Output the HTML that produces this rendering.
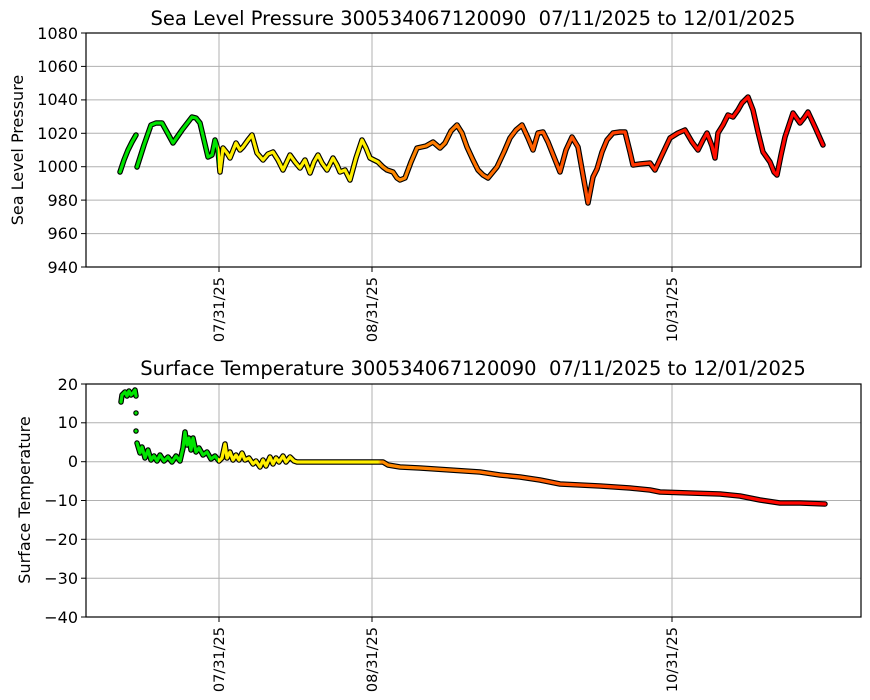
<!DOCTYPE html>
<html><head><meta charset="utf-8"><style>body{margin:0;background:#fff}svg{display:block}text{font-family:"DejaVu Sans","Liberation Sans",sans-serif;fill:#000}</style></head><body>
<svg width="870" height="700" viewBox="0 0 870 700">
<defs>
<linearGradient id="g" gradientUnits="userSpaceOnUse" x1="120" y1="0" x2="826" y2="0">
<stop offset="0" stop-color="#00e400"/><stop offset="0.1388" stop-color="#00e400"/>
<stop offset="0.1389" stop-color="#ffee00"/><stop offset="0.3654" stop-color="#ffee00"/>
<stop offset="0.37" stop-color="#ff8c00"/><stop offset="0.52" stop-color="#ff7000"/>
<stop offset="0.68" stop-color="#ff4a00"/><stop offset="0.82" stop-color="#ff1000"/>
<stop offset="1" stop-color="#ff0000"/></linearGradient>
</defs>
<g stroke="#b0b0b0" stroke-width="1">
<line x1="219" y1="33" x2="219" y2="267"/><line x1="372" y1="33" x2="372" y2="267"/><line x1="672" y1="33" x2="672" y2="267"/>
<line x1="86" y1="66.4" x2="861" y2="66.4"/><line x1="86" y1="99.9" x2="861" y2="99.9"/><line x1="86" y1="133.3" x2="861" y2="133.3"/><line x1="86" y1="166.7" x2="861" y2="166.7"/><line x1="86" y1="200.1" x2="861" y2="200.1"/><line x1="86" y1="233.6" x2="861" y2="233.6"/>
<line x1="219" y1="384" x2="219" y2="617"/><line x1="372" y1="384" x2="372" y2="617"/><line x1="672" y1="384" x2="672" y2="617"/>
<line x1="86" y1="422.8" x2="861" y2="422.8"/><line x1="86" y1="461.7" x2="861" y2="461.7"/><line x1="86" y1="500.5" x2="861" y2="500.5"/><line x1="86" y1="539.3" x2="861" y2="539.3"/><line x1="86" y1="578.2" x2="861" y2="578.2"/>
</g>
<g fill="none" stroke-linejoin="round" stroke-linecap="round">
<g id="p1">
<polyline points="120,172 124,160 128,150 132,142 136,135"/>
<polyline points="137,167 144,145 151,125 156,123 162,123 167,132 173,143 182,130 192,117 196,118 200,123 204,140 208,157 212,155 215,140 218,150 220,172 223,148 227,153 230,158 236,143 240,150 243,147 248,140 252,135 257,153 263,160 268,154 273,152 278,160 283,170 290,155 295,162 300,168 305,160 310,173 314,162 318,155 322,163 327,170 333,158 337,165 340,172 345,170 350,180 356,158 362,140 366,148 370,158 378,162 383,167 387,170 393,172 397,178 400,180 405,178 411,162 417,148 426,146 433,142 440,148 445,143 451,131 457,125 462,133 467,147 473,160 478,170 483,175 488,178 497,167 504,152 510,138 516,130 522,125 528,138 533,150 538,133 543,132 548,142 554,157 560,172 566,150 572,137 578,147 583,175 588,203 593,177 597,169 602,152 607,140 613,133 620,132 625,132 630,152 633,165 640,164 650,163 655,170 662,155 670,138 678,133 685,130 692,142 698,150 703,140 707,133 712,146 715,158 718,133 723,125 728,115 733,117 738,110 742,103 748,97 753,110 758,132 763,152 770,162 774,172 777,175 781,155 785,137 789,125 793,113 800,123 804,118 808,112 815,127 823,145"/>
<polyline points="136,413 136,413"/><polyline points="136,431 136,431"/>
<polyline points="121,402 122,395 125,392 127,396 129,391 131,395 133,393 135,390 136,396"/>
<polyline points="137,443 140,453 142,447 145,458 148,450 151,460 154,456 157,461 160,455 164,461 168,457 172,462 176,456 180,461 183,448 185,432 187,445 189,438 191,450 193,438 196,452 199,448 203,455 207,452 211,459 215,456 219,461 222,458 225,444 227,458 230,452 233,460 236,455 239,460 242,453 245,460 249,458 253,464 256,461 260,467 263,460 266,466 270,457 273,464 276,458 279,462 283,456 286,462 290,457 294,461 297,462 383,462 388,465 400,467 420,468 450,470 480,472 500,475 520,477 540,480 560,484 600,486 630,488 650,490 660,492 690,493 720,494 740,496 760,500 780,503 800,503 825,504"/>
</g>
</g>
<use href="#p1" stroke="#000" stroke-width="5.5" fill="none" stroke-linejoin="round" stroke-linecap="round"/>
<use href="#p1" stroke="url(#g)" stroke-width="3.2" fill="none" stroke-linejoin="round" stroke-linecap="round"/>
<g fill="none" stroke="#000" stroke-width="1.2">
<rect x="86" y="33" width="775" height="234"/><rect x="86" y="384" width="775" height="233"/>
</g>
<g stroke="#000" stroke-width="1">
<line x1="81" y1="33" x2="86" y2="33"/><line x1="81" y1="66.4" x2="86" y2="66.4"/><line x1="81" y1="99.9" x2="86" y2="99.9"/><line x1="81" y1="133.3" x2="86" y2="133.3"/><line x1="81" y1="166.7" x2="86" y2="166.7"/><line x1="81" y1="200.1" x2="86" y2="200.1"/><line x1="81" y1="233.6" x2="86" y2="233.6"/><line x1="81" y1="267" x2="86" y2="267"/>
<line x1="81" y1="384" x2="86" y2="384"/><line x1="81" y1="422.8" x2="86" y2="422.8"/><line x1="81" y1="461.7" x2="86" y2="461.7"/><line x1="81" y1="500.5" x2="86" y2="500.5"/><line x1="81" y1="539.3" x2="86" y2="539.3"/><line x1="81" y1="578.2" x2="86" y2="578.2"/><line x1="81" y1="617" x2="86" y2="617"/>
<line x1="219" y1="267" x2="219" y2="272"/><line x1="372" y1="267" x2="372" y2="272"/><line x1="672" y1="267" x2="672" y2="272"/>
<line x1="219" y1="617" x2="219" y2="622"/><line x1="372" y1="617" x2="372" y2="622"/><line x1="672" y1="617" x2="672" y2="622"/>
</g>
<g font-size="16" text-anchor="end">
<text x="78" y="39">1080</text><text x="78" y="72">1060</text><text x="78" y="105">1040</text><text x="78" y="139">1020</text><text x="78" y="172">1000</text><text x="78" y="206">980</text><text x="78" y="239">960</text><text x="78" y="273">940</text>
<text x="78" y="390">20</text><text x="78" y="428">10</text><text x="78" y="467">0</text><text x="78" y="506">−10</text><text x="78" y="545">−20</text><text x="78" y="584">−30</text><text x="78" y="623">−40</text>
</g>
<g font-size="14.5" text-anchor="end">
<text transform="translate(224,277) rotate(-90)">07/31/25</text><text transform="translate(377,277) rotate(-90)">08/31/25</text><text transform="translate(677,277) rotate(-90)">10/31/25</text>
<text transform="translate(224,627) rotate(-90)">07/31/25</text><text transform="translate(377,627) rotate(-90)">08/31/25</text><text transform="translate(677,627) rotate(-90)">10/31/25</text>
</g>
<g font-size="16" text-anchor="middle">
<text transform="translate(23,150) rotate(-90)">Sea Level Pressure</text>
<text transform="translate(30,500) rotate(-90)">Surface Temperature</text>
</g>
<g font-size="19.5" text-anchor="middle">
<text x="473" y="25">Sea Level Pressure 300534067120090&#160; 07/11/2025 to 12/01/2025</text>
<text x="473" y="375">Surface Temperature 300534067120090&#160; 07/11/2025 to 12/01/2025</text>
</g>
</svg>
</body></html>
